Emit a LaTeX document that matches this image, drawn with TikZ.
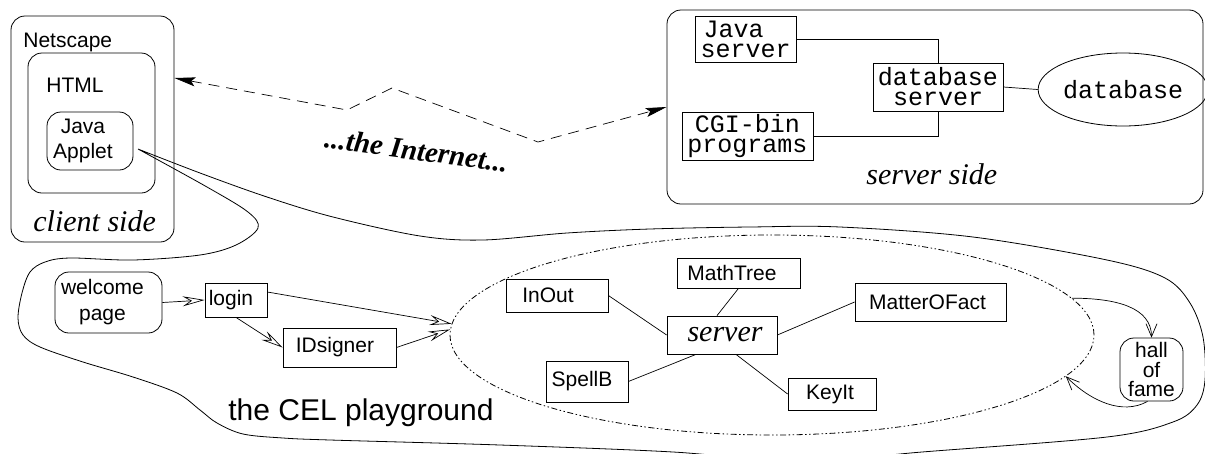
\documentclass[tikz,border=0pt]{standalone}
\usepackage{fontspec}
\setmainfont{Liberation Serif}
\setsansfont{Liberation Sans}
\setmonofont{Liberation Mono}
\usetikzlibrary{shapes.geometric,arrows.meta,calc}
\newcommand\fsz[2]{\fontsize{#1}{#2}\selectfont}
\newcommand\lsh[1]{\hspace*{-#1pt}}
\begin{document}
\begin{tikzpicture}[x=1pt,y=-1pt,line width=0.8pt,
  sq/.style={draw,rectangle,inner sep=0pt,align=center},
  rq/.style={draw,rectangle,rounded corners=14pt,inner sep=0pt,align=center},
  sansf/.style={font=\sffamily\fsz{21}{25}},
  monof/.style={font=\ttfamily\fsz{25}{20}},
  itf/.style={font=\itshape\fsz{30}{32}},
  inetarrow/.style={dash pattern=on 11pt off 7pt,line width=0.7pt,
     {Stealth[length=21pt,width=9pt,inset=4pt]}-{Stealth[length=21pt,width=9pt,inset=4pt]}},
  openarrow/.style={line width=0.7pt,-{Stealth[open,length=22pt,width=10pt,inset=8pt]}},
  hallarrow/.style={line width=0.7pt,-{Straight Barb[length=13pt,width=11pt]}},
  dashdot2/.style={dash pattern=on 6pt off 2.5pt on 1.5pt off 2.5pt on 1.5pt off 2.5pt,line width=0.8pt},
  thinline/.style={line width=0.7pt}]
\useasboundingbox (0,0) rectangle (1205,453);

% ---------- client side ----------
\node[rq,minimum width=163pt,minimum height=226pt] (netscape) at (92.5,129) {};
\node[rq,minimum width=127pt,minimum height=140pt] (html) at (91.5,123) {};
\node[rq,sansf,minimum width=86pt,minimum height=58pt] (applet) at (90,141) {\lsh{14}Java\\\lsh{14}Applet};
\node[sansf,anchor=base west,inner sep=0pt] (nstext) at (23,47) {Netscape};
\node[sansf,anchor=base west,inner sep=0pt] (htmltext) at (46,92) {HTML};
\node[itf,anchor=base west,inner sep=0pt] (clientside) at (33,231) {client side};

% ---------- server side ----------
\node[rq,minimum width=536pt,minimum height=194pt] (serverbox) at (935,107) {};
\node[sq,monof,minimum width=101pt,minimum height=46pt] (jsrv) at (745.5,39) {Java\hspace*{24pt}\\server};
\node[sq,monof,minimum width=131pt,minimum height=48pt] (cgi) at (747.5,136) {CGI-bin\\programs};
\node[sq,monof,minimum width=130pt,minimum height=48pt] (dbsrv) at (938,87) {database\\server};
\node[draw,ellipse,monof,inner sep=0pt,minimum width=154pt,minimum height=73pt] (db) at (1123,89.5) {database};
\node[itf,anchor=base west,inner sep=0pt] (serverside) at (866,184) {server side};
\draw[thinline] (jsrv.east) -| (dbsrv.north);
\draw[thinline] (cgi.east) -| (dbsrv.south);
\draw[thinline] (dbsrv.east) -- (db.west);

% ---------- the Internet ----------
\coordinate (i1) at (347,110);
\coordinate (i2) at (392,88);
\coordinate (i3) at (538,142);
\draw[inetarrow] ([yshift=51pt]netscape.east) -- (i1) -- (i2) -- (i3) -- (serverbox.west);
\node[font=\bfseries\itshape\fsz{29}{32},rotate=-7.5,anchor=base,inner sep=0pt] (inet) at (415,160) {...the Internet...};

% ---------- playground outline ----------
\coordinate (pinch) at ([xshift=5pt,yshift=-8pt]applet.east);
\begin{scope}
\clip (0,0) rectangle (1205,453);
\draw[line width=0.8pt] plot[smooth,tension=0.55] coordinates {
 (138,149) (200,173) (267,197) (333,217) (420,236) (483,240) (567,233) (650,229)
 (750,227) (840,227) (973,237) (1107,260) (1165,278) (1190,303) (1203,337)
 (1205,380) (1197,405) (1173,422) (1107,437) (922,452) (800,462) (673,452)
 (500,445) (330,440) (283,438) (243,434) (217,423) (200,410) (177,393) (133,377)
 (83,362) (40,347) (23,335) (18,318) (22,293) (30,272) (45,262) (70,258)
 (133,260) (200,255) (236,245) (258,228) (248,212) (207,187) (138,149)};
\end{scope}

% ---------- CEL playground ----------
\node[draw,ellipse,dashdot2,inner sep=0pt,minimum width=644pt,minimum height=200pt] (cel) at (772,335) {};
\node[font=\sffamily\fsz{30}{32},anchor=base west,inner sep=0pt] (celtext) at (228,420) {the CEL playground};

\node[rq,minimum width=107pt,minimum height=61pt,font=\sffamily\fsz{21}{26}] (welcome) at (108.5,302.5) {\lsh{12}welcome\\\lsh{12}page};
\node[sq,sansf,minimum width=62pt,minimum height=34pt] (login) at (236,300) {\lsh{10}login};
\node[sq,sansf,minimum width=113pt,minimum height=39pt] (idsigner) at (339.5,347.5) {\lsh{9}IDsigner};

\draw[openarrow] (welcome.east) -- (login.west);
\draw[openarrow] (login.south) -- (idsigner.west);
\draw[openarrow] ([yshift=8pt]login.east) -- (cel.178);
\draw[openarrow] (idsigner.east) -- (cel.179.5);

\node[sq,sansf,minimum width=102pt,minimum height=33pt] (inout) at (557,295.5) {\lsh{18}InOut};
\node[sq,sansf,minimum width=123pt,minimum height=30pt] (mathtree) at (738.5,273) {\lsh{13}MathTree};
\node[sq,itf,minimum width=110pt,minimum height=38pt] (srv) at (722,335) {server\hspace*{-6pt}};
\node[sq,sansf,minimum width=151pt,minimum height=38pt] (matter) at (930.5,302) {\lsh{6}MatterOFact};
\node[sq,sansf,minimum width=82pt,minimum height=41pt] (spellb) at (587,381.5) {\lsh{10}SpellB};
\node[sq,sansf,minimum width=88pt,minimum height=32pt] (keyit) at (832,394) {\lsh{4}KeyIt};

\draw[thinline] (inout.east) -- (srv.west);
\draw[thinline] (mathtree.south) -- ([xshift=-5pt]srv.north);
\draw[thinline] (matter.west) -- (srv.east);
\draw[thinline] (spellb.east) -- ([xshift=-26pt]srv.south);
\draw[thinline] ([xshift=14pt]srv.south) -- (keyit.west);

\node[rq,minimum width=63pt,minimum height=63pt,font=\sffamily\fsz{21}{19.5}] (hall) at (1151.5,369.5) {hall\\of\\fame};
\draw[hallarrow] (cel.7) .. controls +(45,0) and +(0,-30) .. (hall.north);
\draw[hallarrow] ([xshift=-4pt]hall.south) .. controls +(-25,14) and +(25,25) .. (cel.-8);
\end{tikzpicture}
\end{document}
